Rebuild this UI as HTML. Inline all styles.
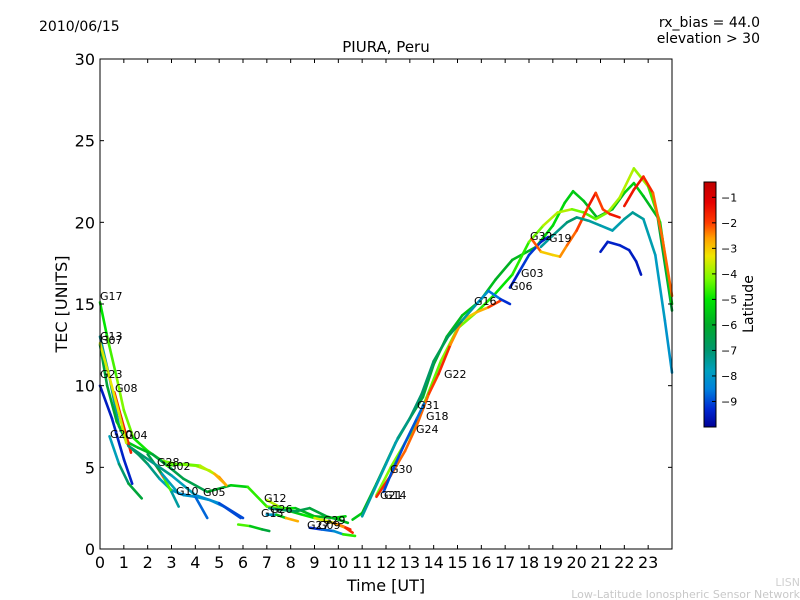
<!DOCTYPE html>
<html><head><meta charset="utf-8"><style>
body{margin:0;background:#fff;}
svg{display:block;font-family:"DejaVu Sans","Liberation Sans",sans-serif;}
</style></head><body>
<svg id="chart" width="800" height="600" viewBox="0 0 800 600">
<text x="39" y="31" font-size="14">2010/06/15</text>
<text x="760" y="27" font-size="14" text-anchor="end">rx_bias = 44.0</text>
<text x="760" y="43" font-size="14" text-anchor="end">elevation &gt; 30</text>
<text x="386" y="52" font-size="15" text-anchor="middle">PIURA, Peru</text>
<g id="plot"></g>
<rect x="100" y="59" width="572" height="490" fill="none" stroke="#000" stroke-width="1"/>
<g id="axes"></g>
<text x="386" y="591" font-size="16" text-anchor="middle">Time [UT]</text>
<text x="0" y="0" font-size="16" text-anchor="middle" transform="translate(67,304) rotate(-90)">TEC [UNITS]</text>
<g id="cbar"></g>
<text x="0" y="0" font-size="14" text-anchor="middle" transform="translate(753,304) rotate(-90)">Latitude</text>
<text x="800" y="586" font-size="11" fill="#d0d0d0" text-anchor="end">LISN</text>
<text x="800" y="598" font-size="11" fill="#c8c8c8" text-anchor="end">Low-Latitude Ionospheric Sensor Network</text>
</svg>
<script>
const xTicks=[0,1,2,3,4,5,6,7,8,9,10,11,12,13,14,15,16,17,18,19,20,21,22,23];
const yTicks=[0,5,10,15,20,25,30];
const cbTicks=[-1,-2,-3,-4,-5,-6,-7,-8,-9];
const latMin=-10, latMax=-0.4;
const names=["G17","G13","G07","G23","G20","G08","G04","G28","G10","G05","G02","S1","G12","G15","G26","G27","G29",
"R1","R2","R3","R4","R5","G06","G32","G19","R9","R10"];
const times=[
[0,0.3,0.7,1.0,1.4,2.0,2.6,3.2,4.0,4.6,5.0,5.3],
[0,0.4,0.8,1.2,1.6,2.0,2.5,3.0,3.5,4.0,4.6,5.2,5.9],
[0,0.3,0.7,1.2,1.6,2.2,3.0,3.5,4.5,5.5,6.2,7.0,7.5,8.2,9.0,9.8,10.3],
[0,0.5,1.0,1.35],
[0.4,0.8,1.2,1.75],
[0.6,0.9,1.3],
[0,0.4,0.8,1.1],
[2.4,2.7,3.0,3.3],
[2.0,2.6,3.3,4.0,4.5],
[1.2,2.0,3.0,4.0,5.0,6.0],
[2.8,3.5,4.2,4.8,5.3],
[5.8,6.3,6.8,7.1],
[7.0,7.5,8.0,8.5,9.0,9.5,10.0,10.5],
[7.0,7.4,7.8,8.3],
[7.1,7.6,8.2,8.8,9.5,10.0,10.4],
[8.8,9.3,9.8,10.2,10.7],
[9.3,9.8,10.3,10.6],
[10.6,11.0,11.6,12.4,13.0,13.55,14.0,14.55,15.2,15.95,16.6,17.3,18.3,19.0,19.5,19.85,20.3,20.85,21.5,22.0,22.4,22.8,23.4,24],
[11.6,12.2,13.0,13.6,14.3,15,15.8,16.5,17.3,18,18.6,19.2,19.8,20.3,20.8,21.3,21.8,22.4,23.0,23.5,24],
[11.6,12.2,12.8,13.3,13.8,14.2,14.7,15.2,15.8,16.3,16.8],
[11.9,12.3,12.8,13.3,13.6],
[11,11.5,12,12.5,13,13.5,14,14.6,15.2,15.8,16.3,16.8,17.2],
[17.2,17.6,18.0,18.5,18.8],
[18.1,18.5,19,19.3,19.6,20.0,20.5,20.8,21.1,21.4,21.8],
[18.5,19.0,19.6,20.0,20.5,21.0,21.5,22.0,22.35,22.8,23.3,23.7,24],
[21.0,21.3,21.8,22.2,22.5,22.7],
[22.0,22.4,22.8,23.2,23.6,24]];
const tecs=[
[15.1,13,10.5,8.5,6.8,6.0,5.4,5.2,5.1,4.8,4.4,3.9],
[13,10.5,7.5,6.3,5.8,5.2,4.3,3.6,3.3,3.2,3.0,2.6,1.9],
[12.5,10,7.8,6.5,6.2,5.8,4.9,4.3,3.5,3.9,3.8,2.6,2.5,2.5,2.0,1.9,2.0],
[10,8,5.5,4.0],
[6.9,5.2,4.0,3.1],
[9.6,8,5.9],
[12.6,10.5,8.3,6.5],
[5.0,4.3,3.5,2.6],
[5.8,4.6,3.4,3.2,1.9],
[6.3,5.5,4.5,3.3,2.8,1.9],
[5.1,5.2,5.1,4.6,3.9],
[1.5,1.4,1.2,1.1],
[3.0,2.6,2.3,2.1,1.9,1.7,1.5,1.2],
[2.1,2.1,1.9,1.7],
[2.5,2.4,2.3,2.5,2.0,1.8,1.6],
[1.3,1.2,1.1,0.9,0.8],
[1.8,1.6,1.3,1.0],
[1.8,2.2,4.0,6.5,8.0,9.3,11.3,13,14.3,15.2,16.5,17.7,18.5,19.8,21.2,21.9,21.3,20.3,20.8,21.8,22.4,21.6,20.3,14.6],
[3.3,5,7,8.9,11.5,13.5,14.5,15.5,16.8,18.8,19.8,20.6,20.8,20.6,20.2,20.6,21.5,23.3,22.2,20,15],
[3.2,4.5,6,7.6,9.5,10.7,12.5,14,14.5,14.8,15.2],
[3.5,4.9,6.5,8.0,8.9],
[2,3.6,5.2,6.8,8,9.5,11.5,13,14,15,15.8,15.3,15.0],
[16,17,18,18.8,19.1],
[19,18.2,18,17.9,18.6,19.5,21,21.8,20.8,20.5,20.3],
[18.5,19.2,20,20.3,20.1,19.8,19.5,20.2,20.6,20.2,18,14,10.8],
[18.2,18.8,18.6,18.3,17.6,16.8],
[21,22,22.8,21.8,19,15.5]];
const lats=[
[-5.2,-4.8,-4.3,-4.0,-4.6,-5.2,-4.5,-4.0,-4.2,-3.5,-3,-2],
[-7.5,-7.5,-7.5,-7,-6.5,-7,-7.5,-8,-8,-7.5,-8,-8.5,-9.5],
[-6.5,-6.2,-6,-5.5,-5.5,-6,-6.5,-6.5,-6.5,-5.5,-5.2,-4.2,-4.5,-5.5,-6,-5.5,-5],
[-9.5,-9.5,-9.3,-9.5],
[-8,-7.5,-6.5,-6],
[-1.5,-1.8,-1.5],
[-3.5,-3.5,-3.2,-4],
[-1.5,-3,-6,-9],
[-6,-7,-8.5,-8,-9.5],
[-7,-7,-7.5,-8,-8.5,-9.5],
[-5,-4,-4.5,-3,-2.5],
[-4,-5,-6,-6.5],
[-3.5,-4,-5,-6,-4,-3,-2,-1.5],
[-9,-7,-4,-1.5],
[-7,-7,-6.5,-6.5,-6,-5.5,-6],
[-9.5,-9,-8.5,-8,-1.5],
[-4,-3,-2,-1.5],
[-5.5,-5.5,-6,-6,-6.2,-6.5,-6,-6,-5.5,-5.5,-5.8,-6,-5.5,-5,-5.3,-5.5,-5.5,-6,-6,-5.5,-5.2,-5.5,-6,-6.5],
[-4.2,-4,-4.5,-4.5,-4.2,-4,-4.5,-5,-5,-4.5,-4,-3.5,-4,-4.5,-4.5,-4,-3.8,-3.7,-4.2,-5,-5.5],
[-1.5,-2,-2.5,-2,-2.5,-1.5,-2,-3,-3,-2.5,-1.5],
[-9,-9,-9,-8.8,-8.5],
[-7.5,-7.5,-7.8,-7.5,-7,-7,-6.8,-6.5,-7,-8,-8.2,-9,-9.5],
[-9.5,-9.3,-9,-9.3,-9.5],
[-1.5,-2.8,-3.2,-3,-2,-2.5,-1.5,-1.5,-2.5,-1.5,-1.5],
[-7.5,-7.5,-7,-7,-7.5,-7.5,-7.8,-7.5,-7.3,-7.5,-7.8,-8,-8.2],
[-9.5,-9.5,-9.3,-9.5,-9.5,-9.6],
[-1.5,-1.5,-1.5,-2,-2.5,-2]];
const X=t=>100+t*572/24, Y=v=>549-v*490/30;
const NS="http://www.w3.org/2000/svg";
const stops=[[-0.4,[190,0,0]],[-1.2,[230,0,0]],[-2.0,[255,60,0]],[-2.6,[255,160,0]],[-3.3,[240,230,0]],[-4.2,[120,250,0]],[-5.0,[0,230,0]],[-6.0,[0,170,40]],[-7.0,[0,150,110]],[-7.8,[0,160,190]],[-8.5,[0,130,220]],[-9.3,[0,40,210]],[-10,[0,0,150]]];
function cmap(v){
 if(v>=stops[0][0])return `rgb(${stops[0][1]})`;
 for(let i=0;i<stops.length-1;i++){const a=stops[i],b=stops[i+1];
  if(v<=a[0]&&v>=b[0]){const f=(a[0]-v)/(a[0]-b[0]);
   const c=a[1].map((x,k)=>Math.round(x+(b[1][k]-x)*f));return `rgb(${c})`;}}
 return `rgb(${stops[stops.length-1][1]})`;}
function mk(tag,attrs,parent){const e=document.createElementNS(NS,tag);for(const k in attrs)e.setAttribute(k,attrs[k]);parent.appendChild(e);return e;}
const plot=document.getElementById('plot');
for(let i=0;i<names.length;i++){
 const g=mk('g',{},plot);
 
 
 const t=times[i],v=tecs[i],l=lats[i];
 for(let j=0;j<t.length-1;j++){
  const s=mk('line',{x1:X(t[j]),y1:Y(v[j]),x2:X(t[j+1]),y2:Y(v[j+1]),stroke:cmap((l[j]+l[j+1])/2),'stroke-width':2.6,'stroke-linecap':'round'},g);
  
  
 }
}
const labels=[["G17",100,300],["G13",100,340],["G07",100,344],["G23",100,378],["G08",115,392],["G20",110,438],["G04",125,439],["G28",157,466],["G02",168,470],["G10",176,495],["G05",203,496],["G12",264,502],["G15",261,517],["G26",270,513],["G27",307,529],["G09",318,529],["G29",323,524],["G21",380,499],["G14",384,499],["G30",390,473],["G24",416,433],["G18",426,420],["G31",417,409],["G22",444,378],["G16",474,305],["G06",510,290],["G03",521,277],["G32",530,240],["G19",549,242]];
for(const [n,x,y] of labels){const e=mk('text',{x:x,y:y,'font-size':11},plot);e.textContent=n;
 
 }
const axes=document.getElementById('axes');
for(const t of xTicks){const x=X(t);
 mk('line',{x1:x,y1:549,x2:x,y2:545,stroke:'#000'},axes);mk('line',{x1:x,y1:59,x2:x,y2:63,stroke:'#000'},axes);
 const e=mk('text',{x:x,y:568,'font-size':16,'text-anchor':'middle'},axes);e.textContent=t;
 
 }
for(const v of yTicks){const y=Y(v);
 mk('line',{x1:100,y1:y,x2:104,y2:y,stroke:'#000'},axes);mk('line',{x1:672,y1:y,x2:668,y2:y,stroke:'#000'},axes);
 const e=mk('text',{x:95,y:y+6,'font-size':16,'text-anchor':'end'},axes);e.textContent=v;
 
 }
const cb=document.getElementById('cbar');const cy0=182,cy1=427;
for(let i=0;i<245;i++){const lat=latMax-(i+0.5)/245*(latMax-latMin);mk('rect',{x:704,y:cy0+i,width:12,height:1.2,fill:cmap(lat)},cb);}
mk('rect',{x:704,y:cy0,width:12,height:cy1-cy0,fill:'none',stroke:'#000'},cb);
const CY=l=>cy0+(latMax-l)/(latMax-latMin)*(cy1-cy0);
for(const l of cbTicks){const y=CY(l);mk('line',{x1:712,y1:y,x2:716,y2:y,stroke:'#000'},cb);
 const e=mk('text',{x:721,y:y+4,'font-size':11},cb);e.textContent='\u2212'+(-l);
 
 }
</script>
</body></html>
